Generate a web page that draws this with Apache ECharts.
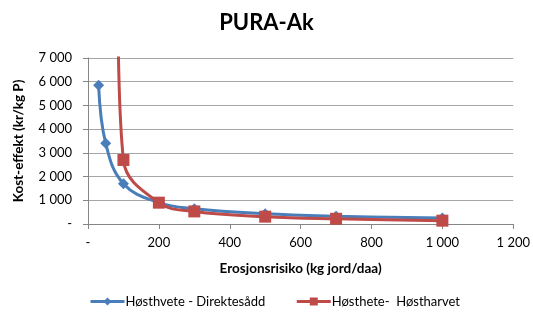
<!DOCTYPE html>
<html>
<head>
<meta charset="utf-8">
<script src="https://cdn.jsdelivr.net/npm/echarts@6/dist/echarts.min.js"></script>
<style>
  html, body { margin: 0; padding: 0; background: #fff; }
  #chart { width: 533px; height: 315px; }
</style>
</head>
<body>
<div id="chart"></div>
<script>
// data
const blueName = 'Høsthvete - Direktesådd';
const redName = 'Høsthete-  Høstharvet';
const blueX = [30, 50, 100, 200, 300, 500, 700, 1000];
const blueY = [5850, 3400, 1700, 900, 640, 430, 330, 250];
const redX = [85, 100, 200, 300, 500, 700, 1000];
const redY = [8500, 2700, 900, 530, 310, 220, 140];

const font = 'Lato, "Open Sans", sans-serif';

function fmt(v) {
  if (v === 0) return '-';
  return String(v).replace(/\B(?=(\d{3})+(?!\d))/g, ' ');
}
function pairs(xs, ys) {
  return xs.map(function (x, i) { return [x, ys[i]]; });
}

const myChart = echarts.init(document.getElementById('chart'));
myChart.setOption({
  animation: false,
  title: {
    text: 'PURA-Ak',
    left: 'center',
    top: 7,
    textStyle: { fontFamily: font, fontSize: 22, fontWeight: 'bold', color: '#000' }
  },
  grid: { left: 88, right: 18, top: 58, bottom: 91 },
  legend: {
    bottom: 2,
    left: 84,
    itemGap: 30,
    itemWidth: 34,
    itemHeight: 10,
    lineStyle: { width: 3 },
    textStyle: { fontFamily: font, fontSize: 13, color: '#000', padding: [0, 0, 0, -4] },
    data: [blueName, redName]
  },
  xAxis: {
    type: 'value',
    min: 0, max: 1200, interval: 200,
    name: 'Erosjonsrisiko (kg jord/daa)',
    nameLocation: 'middle',
    nameGap: 38,
    nameTextStyle: { fontFamily: font, fontSize: 13.5, fontWeight: 'bold', color: '#000' },
    axisLine: { lineStyle: { color: '#868686', width: 1 } },
    axisTick: { show: true, length: 5, lineStyle: { color: '#868686' } },
    axisLabel: { fontFamily: font, fontSize: 13, color: '#000', margin: 12, formatter: fmt },
    splitLine: { show: false }
  },
  yAxis: {
    type: 'value',
    min: 0, max: 7000, interval: 1000,
    name: 'Kost-effekt (kr/kg P)',
    nameLocation: 'middle',
    nameGap: 62,
    nameTextStyle: { fontFamily: font, fontSize: 13.5, fontWeight: 'bold', color: '#000' },
    axisLine: { show: true, lineStyle: { color: '#868686', width: 1 } },
    axisTick: { show: true, length: 5, lineStyle: { color: '#868686' } },
    axisLabel: { fontFamily: font, fontSize: 13, color: '#000', margin: 16, formatter: fmt },
    splitLine: { lineStyle: { color: '#a6a6a6', width: 1 } }
  },
  series: [
    {
      name: blueName,
      type: 'line',
      data: pairs(blueX, blueY),
      smooth: 0.4,
      clip: true,
      symbol: 'diamond',
      symbolSize: 11,
      lineStyle: { color: '#4a7ebb', width: 3 },
      itemStyle: { color: '#4a7ebb' }
    },
    {
      name: redName,
      type: 'line',
      data: pairs(redX, redY),
      smooth: 0.4,
      clip: true,
      symbol: 'rect',
      symbolSize: 12,
      lineStyle: { color: '#be4b48', width: 3 },
      itemStyle: { color: '#be4b48' }
    }
  ]
});
</script>
</body>
</html>
